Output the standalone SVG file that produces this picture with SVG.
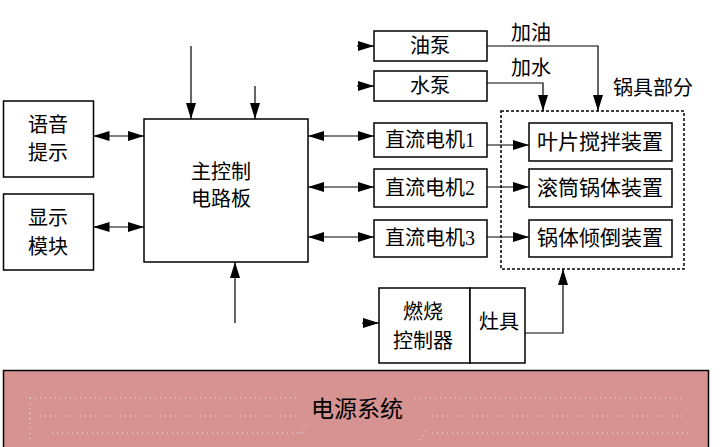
<svg xmlns="http://www.w3.org/2000/svg" width="723" height="447" viewBox="0 0 723 447">
<style>
.b{fill:#fff;stroke:#000;stroke-width:1.5}
.t{font-family:"Liberation Serif","Noto Sans CJK SC",serif;font-size:20px;fill:#000;text-anchor:middle;dominant-baseline:central}
.c{fill:none;stroke:#000;stroke-width:1.2}
.d{fill:none;stroke:#fff;stroke-width:1;stroke-dasharray:1 4;opacity:0.8}
</style>
<defs>
<marker id="a" markerUnits="userSpaceOnUse" markerWidth="16" markerHeight="10" refX="16" refY="5" orient="auto-start-reverse" viewBox="0 0 16 10">
<path d="M0,0 L16,5 L0,10 z" fill="#000"/>
</marker>
</defs>
<rect width="723" height="447" fill="#fff"/>

<g id="power">
<rect x="3.5" y="370.5" width="705" height="80" fill="#D69391" stroke="#000" stroke-width="1.5"/>
<path class="d" d="M30,398 H300 M415,398 H685 M30,398 V440 M40,416 H300 M422,416 H685 M52,433 H305 M300,433 L310,422 M432,433 H690 M420,440 L428,428"/>
<text class="t" x="357" y="409" style="font-size:23px">电源系统</text>
</g>

<g id="voice"><rect class="b" x="3.5" y="101" width="90" height="76"/><text class="t" x="48" y="125">语音</text><text class="t" x="48" y="153">提示</text></g>
<g id="display"><rect class="b" x="3.5" y="194" width="90" height="76"/><text class="t" x="48" y="218">显示</text><text class="t" x="48" y="247">模块</text></g>
<g id="main"><rect class="b" x="144" y="119" width="164" height="143"/><text class="t" x="221" y="172">主控制</text><text class="t" x="221" y="199">电路板</text></g>

<g id="oilpump"><rect class="b" x="374" y="31" width="113" height="30"/><text class="t" x="430" y="46">油泵</text></g>
<g id="waterpump"><rect class="b" x="374" y="71" width="113" height="30"/><text class="t" x="430" y="86">水泵</text></g>
<g id="motor1"><rect class="b" x="374" y="123" width="113" height="34"/><text class="t" x="430" y="140">直流电机1</text></g>
<g id="motor2"><rect class="b" x="374" y="169" width="113" height="38"/><text class="t" x="430" y="188">直流电机2</text></g>
<g id="motor3"><rect class="b" x="374" y="220" width="113" height="37"/><text class="t" x="430" y="238">直流电机3</text></g>

<g id="pot">
<rect x="501" y="111" width="183" height="158" fill="none" stroke="#000" stroke-width="1.5" stroke-dasharray="3 2"/>
<text class="t" x="653" y="88">锅具部分</text>
</g>
<g id="blade"><rect class="b" x="529" y="123" width="143" height="38"/><text class="t" x="600" y="142" style="font-size:21px">叶片搅拌装置</text></g>
<g id="drum"><rect class="b" x="529" y="169" width="143" height="38"/><text class="t" x="600" y="188" style="font-size:21px">滚筒锅体装置</text></g>
<g id="tilt"><rect class="b" x="529" y="220" width="143" height="37"/><text class="t" x="600" y="238" style="font-size:21px">锅体倾倒装置</text></g>

<g id="burner">
<rect class="b" x="379" y="288" width="91" height="75"/>
<text class="t" x="423" y="312">燃烧</text><text class="t" x="423" y="341">控制器</text>
</g>
<g id="stove"><rect class="b" x="470" y="288" width="55" height="75"/><text class="t" x="499" y="322">灶具</text></g>

<g id="connectors">
<path class="c" d="M191,46 V119" marker-end="url(#a)"/>
<path class="c" d="M255,86 V119" marker-end="url(#a)"/>
<path class="c" d="M235,323 V262" marker-end="url(#a)"/>
<path class="c" d="M93.5,136 H144" marker-start="url(#a)" marker-end="url(#a)"/>
<path class="c" d="M93.5,227 H144" marker-start="url(#a)" marker-end="url(#a)"/>
<path class="c" d="M308,136 H374" marker-start="url(#a)" marker-end="url(#a)"/>
<path class="c" d="M308,187 H374" marker-start="url(#a)" marker-end="url(#a)"/>
<path class="c" d="M308,237 H374" marker-start="url(#a)" marker-end="url(#a)"/>
<path class="c" d="M357,46 H374" marker-end="url(#a)"/>
<path class="c" d="M357,86 H374" marker-end="url(#a)"/>
<path class="c" d="M362,323 H379" marker-end="url(#a)"/>
<path class="c" d="M487,145 H529" marker-end="url(#a)"/>
<path class="c" d="M487,187 H529" marker-end="url(#a)"/>
<path class="c" d="M487,237 H529" marker-end="url(#a)"/>
<path class="c" d="M487,46 H598 V111" marker-end="url(#a)"/>
<path class="c" d="M487,83 H543 V111" marker-end="url(#a)"/>
<path class="c" d="M525,333 H563 V269" marker-end="url(#a)"/>
<text class="t" x="531" y="33">加油</text>
<text class="t" x="531" y="68">加水</text>
</g>
</svg>
